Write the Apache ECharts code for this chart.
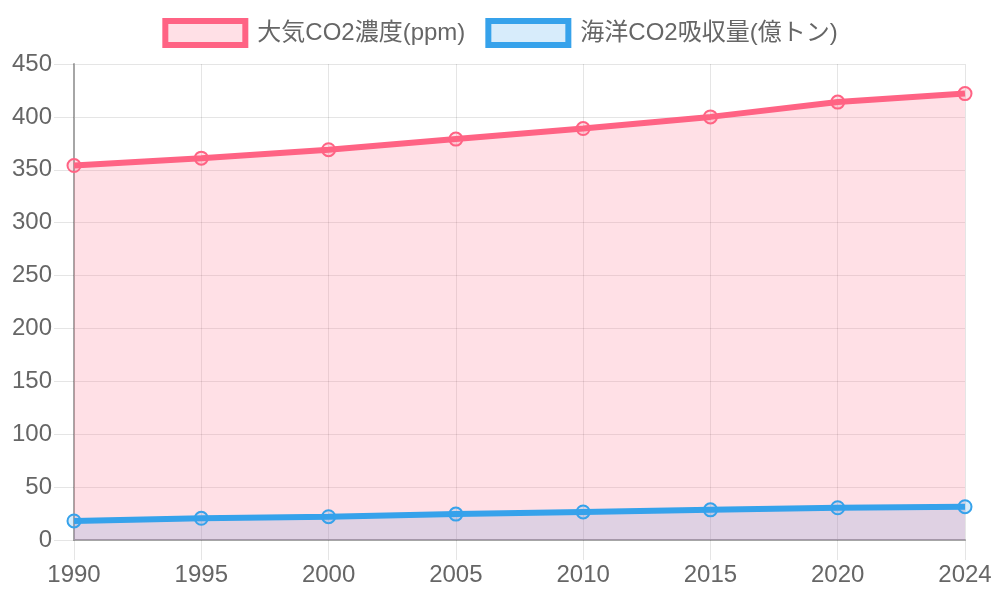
<!DOCTYPE html>
<html>
<head>
    <meta charset="utf-8">
    <title>CO2</title>
    <style>
        html, body { margin: 0; padding: 0; background: #fff; }
        #chart { width: 1000px; height: 600px; }
    </style>
    <script src="https://cdn.jsdelivr.net/npm/echarts@6/dist/echarts.min.js"></script>
</head>
<body>
<div id="chart"></div>
<script>
    // data
    const years = ['1990', '1995', '2000', '2005', '2010', '2015', '2020', '2024'];
    const atmosphere = [354, 361, 369, 379, 389, 400, 414, 422];
    const ocean = [18, 20.5, 22, 24.5, 26.5, 28.5, 30.5, 31.5];
    const names = ['大気CO2濃度(ppm)', '海洋CO2吸収量(億トン)'];

    const font = '"Liberation Sans", "Noto Sans CJK JP", sans-serif';
    const pink = '#FF6384', pinkFill = 'rgba(255, 99, 132, 0.2)';
    const blue = '#36A2EB', blueFill = 'rgba(54, 162, 235, 0.2)';
    const gridColor = 'rgba(0, 0, 0, 0.1)';

    // filled area only, drawn under the lines
    function fillSeries(name, data, fill, z) {
        return {
            name: name,
            type: 'line',
            data: data,
            showSymbol: false,
            symbol: 'none',
            silent: true,
            lineStyle: { width: 0 },
            areaStyle: { color: fill, opacity: 1, origin: 'start' },
            z: z
        };
    }

    function lineSeries(name, data, color, fill) {
        return {
            name: name,
            type: 'line',
            data: data,
            symbol: 'circle',
            symbolSize: 13,
            lineStyle: { color: color, width: 6 },
            itemStyle: { color: fill, borderColor: color, borderWidth: 2, opacity: 1 },
            z: 5
        };
    }

    echarts.init(document.getElementById('chart')).setOption({
        animation: false,
        textStyle: { fontFamily: font },
        legend: {
            top: 13,
            left: 'center',
            itemWidth: 80,
            itemHeight: 24,
            itemGap: 20,
            icon: 'rect',
            textStyle: { fontSize: 24, color: '#666', fontFamily: font, padding: [0, 0, 0, 7] },
            data: [
                { name: names[0], itemStyle: { color: pinkFill, borderColor: pink, borderWidth: 6 } },
                { name: names[1], itemStyle: { color: blueFill, borderColor: blue, borderWidth: 6 } }
            ]
        },
        grid: { left: 74, right: 35, top: 64, bottom: 60, containLabel: false },
        xAxis: {
            type: 'category',
            data: years,
            boundaryGap: false,
            axisLine: { lineStyle: { color: '#a6a6a6', width: 2 } },
            axisTick: { show: true, length: 20, lineStyle: { color: gridColor, width: 1 } },
            axisLabel: { fontSize: 24, color: '#666', margin: 23 },
            splitLine: { show: true, lineStyle: { color: gridColor, width: 1 } }
        },
        yAxis: {
            type: 'value',
            min: 0,
            max: 450,
            interval: 50,
            axisLine: { show: true, lineStyle: { color: '#a6a6a6', width: 2 } },
            axisTick: { show: true, length: 20, lineStyle: { color: gridColor, width: 1 } },
            axisLabel: { fontSize: 24, color: '#666', margin: 22 },
            splitLine: { show: true, lineStyle: { color: gridColor, width: 1 } }
        },
        series: [
            fillSeries(names[1], ocean, blueFill, 1),
            fillSeries(names[0], atmosphere, pinkFill, 2),
            lineSeries(names[0], atmosphere, pink, pinkFill),
            lineSeries(names[1], ocean, blue, blueFill)
        ]
    });
</script>
</body>
</html>
